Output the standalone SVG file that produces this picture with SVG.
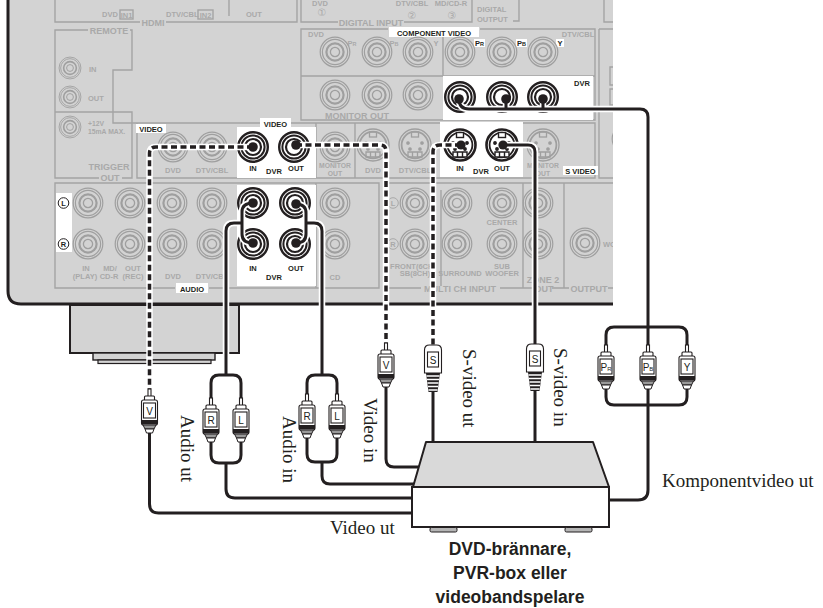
<svg xmlns="http://www.w3.org/2000/svg" width="823" height="608" viewBox="0 0 823 608">
<style>
.ln{fill:none;stroke:#a4a4a4;stroke-width:1.4}
.t{font-family:"Liberation Sans",Arial,sans-serif;font-weight:bold;font-size:7.5px;fill:#a9a9a9}
.tk{font-family:"Liberation Sans",Arial,sans-serif;font-weight:bold;font-size:7.5px;fill:#231f20}
.sm{font-size:6.8px}
.big{font-size:9px}
.m{text-anchor:middle}
.wb{fill:#fff}
.cu{fill:none;stroke:#fff;stroke-width:6.5}
.cb{fill:none;stroke:#231f20;stroke-width:3}
.dsh{fill:none;stroke:#231f20;stroke-width:3.5;stroke-dasharray:6 3.5}
.cap{font-family:"Liberation Serif","Times New Roman",serif;font-size:19px;fill:#231f20}
.bold{font-family:"Liberation Sans",Arial,sans-serif;font-weight:bold;font-size:17.5px;fill:#231f20;text-anchor:middle}
.pl{fill:#fff;stroke:#231f20;stroke-width:1.1}
.plt{font-family:"Liberation Sans",Arial,sans-serif;font-size:10px;fill:#231f20;text-anchor:middle}
.dot{fill:#231f20}
</style>
<defs>
  <clipPath id="panelClip"><rect x="0" y="0" width="613" height="306"/></clipPath>
  <!-- unused RCA jack -->
  <g id="jg" fill="none" stroke="#9f9f9f">
    <circle r="14.8" stroke-width="1.2"/>
    <circle r="12.6" stroke-width="1.2"/>
    <circle r="8.6" stroke-width="2.2"/>
    <circle r="4.6" stroke-width="1.3"/>
  </g>
  <!-- RCA jack in use -->
  <g id="jb" stroke="#231f20">
    <circle r="14.8" fill="#fff" stroke-width="2.4"/>
    <circle r="11.6" fill="none" stroke-width="2"/>
    <circle r="8" fill="none" stroke-width="2.2"/>
  </g>
  <!-- unused S-video jack -->
  <g id="sg" fill="none" stroke="#9f9f9f" stroke-width="1.3">
    <circle r="16"/>
    <circle r="13.4" stroke-width="1.8"/>
    <rect x="-3.5" y="-13" width="7" height="5"/>
    <circle cx="-7" cy="-2" r="1.2" fill="#9f9f9f"/>
    <circle cx="7" cy="-2" r="1.2" fill="#9f9f9f"/>
    <circle cx="-5" cy="4" r="1.2" fill="#9f9f9f"/>
    <circle cx="5" cy="4" r="1.2" fill="#9f9f9f"/>
    <path d="M-7,7 H7 V12 H-7 Z M-2.5,7 V12 M2.5,7 V12"/>
  </g>
  <!-- S-video jack in use -->
  <g id="sb" stroke="#231f20" stroke-width="1.4">
    <circle r="15.5" fill="#fff" stroke-width="2.6"/>
    <circle r="12.4" fill="none" stroke-width="1.8"/>
    <rect x="-3.5" y="-12.5" width="7" height="5" fill="#fff"/>
    <circle cx="-7" cy="-2" r="1.2" fill="#231f20"/>
    <circle cx="7" cy="-2" r="1.2" fill="#231f20"/>
    <circle cx="-5" cy="4" r="1.2" fill="#231f20"/>
    <circle cx="5" cy="4" r="1.2" fill="#231f20"/>
    <path d="M-7,7 H7 V12 H-7 Z M-2.5,7 V12 M2.5,7 V12" fill="#fff"/>
  </g>
  <!-- RCA plug, origin at pin tip -->
  <g id="rca">
    <rect class="pl" x="-1.5" y="0" width="3" height="8"/>
    <rect class="pl" x="-5" y="7" width="10" height="5" rx="1"/>
    <rect class="pl" x="-8" y="11" width="16" height="25" rx="2"/>
    <rect class="pl" x="-6" y="14" width="12" height="15"/>
    <rect x="-8" y="31" width="16" height="4" fill="#231f20"/>
    <path d="M-6.5,36 H6.5 L4.5,40 H-4.5 Z" fill="#9a9a9a" stroke="#231f20" stroke-width="1"/>
    <path d="M-4.5,40 H4.5 L3,44 H-3 Z" fill="#fff" stroke="#231f20" stroke-width="1"/>
  </g>
  <!-- S-video plug, origin at top -->
  <g id="sp">
    <path class="pl" d="M-8.5,28 V5 q0,-5 5,-5 H3.5 q5,0 5,5 V28 Z"/>
    <rect class="pl" x="-5.5" y="7" width="11" height="15"/>
    <path d="M-7,28 H7 L4.5,47 H-4.5 Z" fill="#231f20"/>
    <path d="M-6.5,31H6.5M-6,34.5H6M-5.5,38H5.5M-5,41.5H5M-4.5,45H4.5" stroke="#fff" stroke-width="1.3"/>
  </g>
</defs>

<!-- rear panel of the receiver -->
<g id="rear-panel">
  <g clip-path="url(#panelClip)">
    <path d="M8,-5 V291 q0,13 13,13 H620 V-5 Z" fill="#d3d3d3"/>
    <!-- section outlines -->
    <path class="ln" d="M55,-2 V22 H140 M166,22 H297 V-2 M229,-2 V16"/>
    <rect class="ln" x="120" y="10" width="13" height="9" stroke-width="1"/>
    <rect class="ln" x="198" y="10" width="15" height="9" stroke-width="1"/>
    <path class="ln" d="M301,-2 V22 H338 M404,22 H472 V-2 M519,-2 V21 H513 M604,-2 V22 H616"/>
    <path class="ln" d="M55,112 V30 H88 M130,30 H132 V70 H113 V123 H595 V178 H137 V123"/>
    <path class="ln" d="M55,112 H132 V178 H122 M99,178 H55 V112"/>
    <path class="ln" d="M316,123 V178 M355,123 V178"/>
    <path class="ln" d="M599,29 V178 H616 M599,29 H616 M616,67 H610 V85 H616 M616,89 H610 V105 H616"/>
    <path class="ln" d="M388,29 H301 V120 H595 V29 H480 M443,33 V76 M301,76 H595"/>
    <path class="ln" d="M175,288 H55 V183 H379 V288 H209 M316,183 V288"/>
    <path class="ln" d="M385,183 H616 M385,183 V288 H421 M500,288 H536 M552,288 H569 M608,288 H616 M523,183 V288 M564,183 V288 M441,190 V286"/>

    <!-- white highlight areas -->
    <rect class="wb" x="237" y="127" width="79" height="51"/>
    <rect class="wb" x="260" y="118" width="31" height="10"/>
    <rect class="wb" x="136" y="124" width="30" height="9"/>
    <rect class="wb" x="237" y="185" width="79" height="101"/>
    <rect class="wb" x="176" y="283" width="32" height="10"/>
    <rect class="wb" x="389" y="27" width="90" height="10"/>
    <rect class="wb" x="474" y="39" width="11" height="8"/>
    <rect class="wb" x="516" y="39" width="11" height="8"/>
    <rect class="wb" x="556" y="39" width="8" height="8"/>
    <rect class="wb" x="443" y="76" width="150" height="44"/>
    <rect class="wb" x="440" y="122" width="83" height="55"/>
    <rect class="wb" x="563" y="166" width="35" height="9"/>
    <rect class="wb" x="56" y="193" width="16" height="59"/>

    <!-- panel labels -->
    <text class="t" x="102" y="17">DVD</text>
    <text class="t m" x="126.5" y="17.5" font-size="6.5">IN1</text>
    <text class="t" x="166" y="17">DTV/CBL</text>
    <text class="t m" x="205.5" y="17.5" font-size="6.5">IN2</text>
    <text class="t" x="246" y="17">OUT</text>
    <text class="t big m" x="153" y="25.5">HDMI</text>
    <text class="t m" x="320" y="5.5">DVD</text>
    <text class="t m" x="412" y="5.5">DTV/CBL</text>
    <text class="t m" x="451" y="5.5">MD/CD-R</text>
    <text class="m" x="322" y="16" font-family="DejaVu Sans,sans-serif" font-size="10" fill="#a9a9a9">①</text>
    <text class="m" x="412" y="19" font-family="DejaVu Sans,sans-serif" font-size="10" fill="#a9a9a9">②</text>
    <text class="m" x="452" y="19" font-family="DejaVu Sans,sans-serif" font-size="10" fill="#a9a9a9">③</text>
    <text class="t big m" x="371" y="25.5">DIGITAL INPUT</text>
    <text class="t" x="477" y="12" font-size="8">DIGITAL</text>
    <text class="t" x="477" y="21.5" font-size="8">OUTPUT</text>

    <text class="t big m" x="109" y="34">REMOTE</text>
    <text class="t" x="89" y="72">IN</text>
    <text class="t" x="88" y="100.5">OUT</text>
    <text class="t sm" x="88" y="126">+12V</text>
    <text class="t sm" x="88" y="134">15mA MAX.</text>
    <text class="t big m" x="109" y="169.5">TRIGGER</text>
    <text class="t big m" x="110" y="181">OUT</text>

    <text class="tk m" x="151" y="131.5" font-size="8">VIDEO</text>
    <text class="t m" x="173" y="173">DVD</text>
    <text class="t m" x="212" y="173">DTV/CBL</text>
    <text class="tk m" x="275.5" y="126.5" font-size="8">VIDEO</text>
    <text class="tk m" x="253" y="171">IN</text>
    <text class="tk m" x="274" y="174">DVR</text>
    <text class="tk m" x="296" y="171">OUT</text>
    <text class="t sm m" x="335" y="168">MONITOR</text>
    <text class="t sm m" x="335" y="175.5">OUT</text>
    <text class="t m" x="373" y="173">DVD</text>
    <text class="t m" x="415" y="173">DTV/CBL</text>
    <text class="tk m" x="460" y="171">IN</text>
    <text class="tk m" x="481" y="174">DVR</text>
    <text class="tk m" x="502" y="171">OUT</text>
    <text class="t sm m" x="543" y="168">MONITOR</text>
    <text class="t sm m" x="543" y="175.5">OUT</text>
    <text class="tk m" x="580.5" y="173.5">S VIDEO</text>

    <text class="t m" x="316" y="37">DVD</text>
    <text class="tk m" x="434" y="35.5" font-size="8.5">COMPONENT VIDEO</text>
    <text class="t m" x="352" y="45.5">P<tspan font-size="5.5">R</tspan></text>
    <text class="t m" x="394" y="45.5">P<tspan font-size="5.5">B</tspan></text>
    <text class="t m" x="436" y="45.5">Y</text>
    <text class="tk m" x="479.5" y="46">P<tspan font-size="5.5">R</tspan></text>
    <text class="tk m" x="521.5" y="46">P<tspan font-size="5.5">B</tspan></text>
    <text class="tk m" x="560" y="46">Y</text>
    <text class="t m" x="578" y="37">DTV/CBL</text>
    <text class="t big m" x="357" y="119">MONITOR OUT</text>
    <text class="tk m" x="582" y="86">DVR</text>

    <circle cx="63.5" cy="203" r="5.3" fill="#fff" stroke="#231f20" stroke-width="1"/>
    <text class="tk m" x="63.5" y="205.8" font-size="7.5">L</text>
    <circle cx="63.5" cy="244" r="5.3" fill="#fff" stroke="#231f20" stroke-width="1"/>
    <text class="tk m" x="63.5" y="246.8" font-size="7.5">R</text>
    <text class="t m" x="86" y="271">IN</text>
    <text class="t m" x="85" y="279">(PLAY)</text>
    <text class="t m" x="110" y="271">MD/</text>
    <text class="t m" x="109" y="279">CD-R</text>
    <text class="t m" x="133" y="271">OUT</text>
    <text class="t m" x="133" y="279">(REC)</text>
    <text class="t m" x="173" y="279">DVD</text>
    <text class="t m" x="212" y="279">DTV/CBL</text>
    <text class="tk m" x="192" y="291.5" font-size="8.5">AUDIO</text>
    <text class="tk m" x="253" y="271">IN</text>
    <text class="tk m" x="296" y="271">OUT</text>
    <text class="tk m" x="274" y="280">DVR</text>
    <text class="t m" x="335" y="280">CD</text>

    <circle cx="393" cy="203" r="5.3" fill="none" stroke="#a9a9a9" stroke-width="1"/>
    <text class="t m" x="393" y="205.8">L</text>
    <circle cx="393" cy="244" r="5.3" fill="none" stroke="#a9a9a9" stroke-width="1"/>
    <text class="t m" x="393" y="246.8">R</text>
    <text class="t m" x="413" y="268.5">FRONT(6CH)</text>
    <text class="t m" x="415" y="276">SB(8CH)</text>
    <text class="t m" x="460" y="276" font-size="7">SURROUND</text>
    <text class="t m" x="502" y="225">CENTER</text>
    <text class="t m" x="502" y="268.5">SUB</text>
    <text class="t m" x="502" y="276">WOOFER</text>
    <text class="t big m" x="543" y="283">ZONE 2</text>
    <text class="t big m" x="544" y="292">OUT</text>
    <text class="t big m" x="460" y="292">MULTI CH INPUT</text>
    <text class="t big m" x="589" y="292">OUTPUT</text>
    <text class="t" x="603" y="247">WO</text>

    <!-- remote / trigger jacks -->
    <use href="#jg" transform="translate(70,68) scale(0.74)"/>
    <use href="#jg" transform="translate(70,97) scale(0.74)"/>
    <use href="#jg" transform="translate(70,127) scale(0.74)"/>
    <!-- component video jacks -->
    <use href="#jg" x="335" y="52"/><use href="#jg" x="377" y="52"/><use href="#jg" x="418" y="52"/>
    <use href="#jg" x="460" y="52"/><use href="#jg" x="502" y="52"/><use href="#jg" x="543" y="52"/>
    <use href="#jg" x="335" y="95"/><use href="#jg" x="377" y="95"/><use href="#jg" x="418" y="95"/>
    <use href="#jb" x="460" y="97"/><use href="#jb" x="502" y="97"/><use href="#jb" x="543" y="97"/>
    <use href="#jg" x="627" y="139"/>
    <!-- composite video jacks -->
    <use href="#jg" x="173" y="147"/><use href="#jg" x="212" y="147"/>
    <use href="#jb" x="253" y="147"/><use href="#jb" x="294" y="147"/>
    <use href="#jg" x="335" y="147"/>
    <!-- S-video jacks -->
    <use href="#sg" x="373" y="145"/><use href="#sg" x="415" y="145"/>
    <use href="#sb" x="460" y="145"/><use href="#sb" x="502" y="145"/>
    <use href="#sg" x="543" y="145"/>
    <!-- audio jacks -->
    <use href="#jg" x="88" y="203"/><use href="#jg" x="130" y="203"/><use href="#jg" x="172" y="203"/><use href="#jg" x="212" y="203"/>
    <use href="#jg" x="88" y="244"/><use href="#jg" x="130" y="244"/><use href="#jg" x="172" y="244"/><use href="#jg" x="212" y="244"/>
    <use href="#jb" x="253" y="203"/><use href="#jb" x="295" y="203"/>
    <use href="#jb" x="253" y="244"/><use href="#jb" x="295" y="244"/>
    <use href="#jg" x="335" y="203"/><use href="#jg" x="335" y="244"/>
    <!-- multichannel / output jacks -->
    <use href="#jg" x="415" y="203"/><use href="#jg" x="415" y="244"/>
    <use href="#jg" x="457" y="203"/><use href="#jg" x="457" y="244"/>
    <use href="#jg" x="502" y="203"/><use href="#jg" x="502" y="244"/>
    <use href="#jg" x="538" y="203"/><use href="#jg" x="538" y="244"/>
    <use href="#jg" x="585" y="243"/>
  </g>
  <path d="M8,-5 V291 q0,13 13,13 H613" fill="none" stroke="#231f20" stroke-width="3"/>
  <!-- stand below the chassis -->
  <rect x="70" y="305" width="169" height="48" fill="#d3d3d3" stroke="#231f20" stroke-width="2"/>
  <rect x="93" y="353" width="122" height="7" fill="#d3d3d3" stroke="#231f20" stroke-width="1.4"/>
  <rect x="98" y="360" width="113" height="3.5" fill="#d3d3d3" stroke="#231f20" stroke-width="1.2"/>
</g>

<!-- cables -->
<g id="connectors">
  <path class="cu" d="M253,147 H156 q-6.5,0 -6.5,6.5 V389"/>
  <path class="dsh" d="M253,147 H156 q-6.5,0 -6.5,6.5 V389"/>
  <path class="cu" d="M296,145 H380 q6,0 6,6 V343"/>
  <path class="dsh" d="M296,145 H380 q6,0 6,6 V343"/>
  <path class="cu" d="M461,145 H440 q-7,0 -7,7 V345"/>
  <path class="dsh" d="M461,145 H440 q-7,0 -7,7 V345"/>

  <path class="cu" d="M503,145 H528 q7,0 7,7 V344"/>
  <path class="cb" d="M503,145 H528 q7,0 7,7 V344"/>

  <path class="cu" d="M253,203 q-11,0 -11,9 V234 q0,9 11,9 M242,223 H234 q-8,0 -8,8 V375"/>
  <path class="cb" d="M253,203 q-11,0 -11,9 V234 q0,9 11,9 M242,223 H234 q-8,0 -8,8 V375"/>
  <path class="cb" d="M211,398 V383 q0,-8 8,-8 H233 q8,0 8,8 V398"/>
  <path class="cb" d="M211,442 V455 q0,8 8,8 H233 q8,0 8,-8 V442 M226,463 V489 q0,9 9,9 H413"/>

  <path class="cu" d="M296,204 q10,0 10,9 V234 q0,9 -10,9 M306,223 H314 q8,0 8,8 V375"/>
  <path class="cb" d="M296,204 q10,0 10,9 V234 q0,9 -10,9 M306,223 H314 q8,0 8,8 V375"/>
  <path class="cb" d="M307,394 V383 q0,-8 8,-8 H329 q8,0 8,8 V394"/>
  <path class="cb" d="M307,438 V454 q0,8 8,8 H329 q8,0 8,-8 V438 M322,462 V476 q0,8 8,8 H414"/>

  <path class="cb" d="M386,387 V459 q0,8 8,8 H419"/>
  <path class="cb" d="M149.5,433 V504 q0,9 9,9 H413"/>
  <path class="cb" d="M433,392 V443"/>
  <path class="cb" d="M535,391 V443"/>

  <path class="cu" d="M459,99 q0,10 10,10 H640 q8,0 8,8 V327 M506,99 V109 M543,99 V109"/>
  <path class="cb" d="M459,99 q0,10 10,10 H640 q8,0 8,8 V327 M506,99 V109 M543,99 V109"/>
  <path class="cb" d="M606,345 V335 q0,-8 8,-8 H679 q8,0 8,8 V345 M648,327 V345"/>
  <path class="cb" d="M606,389 V397 q0,8 8,8 H679 q8,0 8,-8 V389 M648,389 V490 q0,10 -10,10 H609"/>

  <!-- plug contacts in the jacks -->
  <circle class="dot" cx="253" cy="147" r="4.8"/>
  <circle class="dot" cx="296" cy="145" r="4.8"/>
  <circle class="dot" cx="461" cy="145" r="4.6"/>
  <circle class="dot" cx="503" cy="145" r="4.6"/>
  <circle class="dot" cx="253" cy="203" r="4.8"/>
  <circle class="dot" cx="253" cy="243" r="4.8"/>
  <circle class="dot" cx="296" cy="204" r="4.8"/>
  <circle class="dot" cx="296" cy="243" r="4.8"/>
  <circle class="dot" cx="459" cy="99" r="4.8"/>
  <circle class="dot" cx="506" cy="99" r="4.8"/>
  <circle class="dot" cx="543" cy="99" r="4.8"/>
</g>

<!-- plugs -->
<g id="plugs">
  <use href="#rca" x="149.5" y="389"/><text class="plt" x="149.5" y="414.5">V</text>
  <use href="#rca" x="211" y="398"/><text class="plt" x="211" y="423.5">R</text>
  <use href="#rca" x="241" y="398"/><text class="plt" x="241" y="423.5">L</text>
  <use href="#rca" x="307" y="394"/><text class="plt" x="307" y="419.5">R</text>
  <use href="#rca" x="337" y="394"/><text class="plt" x="337" y="419.5">L</text>
  <use href="#rca" x="386" y="343"/><text class="plt" x="386" y="368.5">V</text>
  <use href="#sp" x="433" y="345"/><text class="plt" x="433" y="363.5">S</text>
  <use href="#sp" x="535" y="344"/><text class="plt" x="535" y="362.5">S</text>
  <use href="#rca" x="606" y="345"/><text class="plt" x="606" y="370.5" font-size="9.5">P<tspan font-size="6">R</tspan></text>
  <use href="#rca" x="648" y="345"/><text class="plt" x="648" y="370.5" font-size="9.5">P<tspan font-size="6">B</tspan></text>
  <use href="#rca" x="687" y="345"/><text class="plt" x="687" y="370.5">Y</text>
</g>

<!-- recorder -->
<g id="recorder">
  <path d="M426,442 H593 L609,487 H413 Z" fill="#d9d9d9" stroke="#231f20" stroke-width="2" stroke-linejoin="round"/>
  <rect x="412" y="487" width="197" height="40" fill="#fff" stroke="#231f20" stroke-width="2"/>
  <rect x="430" y="527.5" width="27" height="4.5" rx="1.5" fill="#b5b5b5" stroke="#231f20" stroke-width="1"/>
  <rect x="565" y="527.5" width="27" height="4.5" rx="1.5" fill="#b5b5b5" stroke="#231f20" stroke-width="1"/>
  <text class="bold" x="510" y="555">DVD-brännare,</text>
  <text class="bold" x="510" y="579">PVR-box eller</text>
  <text class="bold" x="510" y="603">videobandspelare</text>
</g>

<!-- cable captions -->
<g id="captions">
  <text class="cap" transform="translate(181,415) rotate(90)">Audio ut</text>
  <text class="cap" transform="translate(283,416) rotate(90)">Audio in</text>
  <text class="cap" transform="translate(364,398) rotate(90)">Video in</text>
  <text class="cap" transform="translate(463,349) rotate(90)">S-video ut</text>
  <text class="cap" transform="translate(554,348) rotate(90)">S-video in</text>
  <text class="cap" x="330" y="534">Video ut</text>
  <text class="cap" x="662" y="487">Komponentvideo ut</text>
</g>
</svg>
